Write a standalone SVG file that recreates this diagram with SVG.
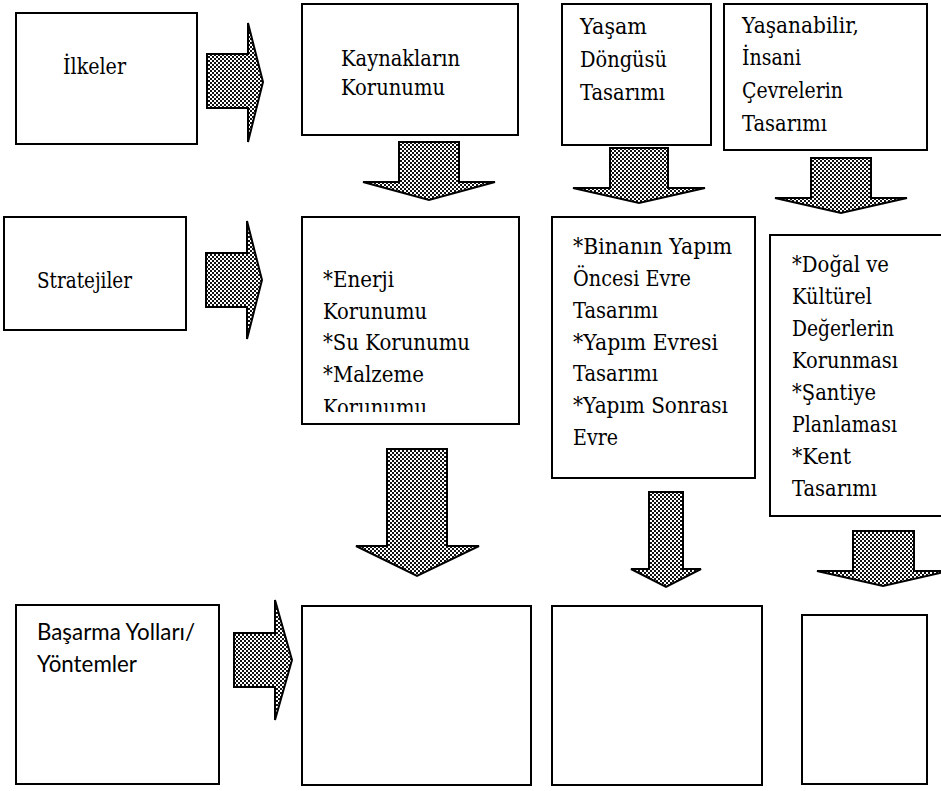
<svg xmlns="http://www.w3.org/2000/svg" width="941" height="791" viewBox="0 0 941 791">
  <defs>
    <!-- small checkerboard fill used by the block arrows -->
    <pattern id="checker" width="4" height="4" patternUnits="userSpaceOnUse">
      <rect width="4" height="4" fill="#ffffff"/>
      <rect width="2" height="2" fill="#111111"/>
      <rect x="2" y="2" width="2" height="2" fill="#111111"/>
    </pattern>
    <clipPath id="clip-enerji">
      <rect x="302" y="217" width="217" height="195"/>
    </clipPath>
  </defs>
  <style>
    .box { fill: #ffffff; stroke: #000000; stroke-width: 2; }
    .arrow { fill: url(#checker); stroke: #000000; stroke-width: 2; stroke-linejoin: miter; }
    .t { font-family: "DejaVu Serif", serif; font-size: 22px; fill: #000000; }
    .s { font-family: Lato, sans-serif; font-size: 23px; fill: #000000; }
  </style>

  <rect width="941" height="791" fill="#ffffff"/>

  <!-- row 1 -->
  <g id="ilkeler">
    <rect class="box" x="16" y="13" width="181" height="131"/>
    <text class="t" x="63" y="74" textLength="63" lengthAdjust="spacingAndGlyphs">İlkeler</text>
  </g>
  <g id="kaynaklarin-korunumu">
    <rect class="box" x="302" y="4" width="216" height="131"/>
    <text class="t" x="341" y="66" textLength="119" lengthAdjust="spacingAndGlyphs">Kaynakların</text>
    <text class="t" x="341" y="95" textLength="104" lengthAdjust="spacingAndGlyphs">Korunumu</text>
  </g>
  <g id="yasam-dongusu">
    <rect class="box" x="562" y="4" width="149" height="141"/>
    <text class="t" x="580" y="34" textLength="67" lengthAdjust="spacingAndGlyphs">Yaşam</text>
    <text class="t" x="580" y="67" textLength="87" lengthAdjust="spacingAndGlyphs">Döngüsü</text>
    <text class="t" x="580" y="100" textLength="85" lengthAdjust="spacingAndGlyphs">Tasarımı</text>
  </g>
  <g id="yasanabilir">
    <rect class="box" x="724" y="4" width="203" height="146"/>
    <text class="t" x="742" y="33" textLength="117" lengthAdjust="spacingAndGlyphs">Yaşanabilir,</text>
    <text class="t" x="742" y="65" textLength="59" lengthAdjust="spacingAndGlyphs">İnsani</text>
    <text class="t" x="742" y="98" textLength="101" lengthAdjust="spacingAndGlyphs">Çevrelerin</text>
    <text class="t" x="742" y="131" textLength="85" lengthAdjust="spacingAndGlyphs">Tasarımı</text>
  </g>

  <!-- row 2 -->
  <g id="stratejiler">
    <rect class="box" x="4" y="217" width="182" height="113"/>
    <text class="t" x="37" y="288" textLength="95" lengthAdjust="spacingAndGlyphs">Stratejiler</text>
  </g>
  <g id="enerji">
    <rect class="box" x="302" y="217" width="217" height="207"/>
    <g clip-path="url(#clip-enerji)">
      <text class="t" x="323" y="287" textLength="71" lengthAdjust="spacingAndGlyphs">*Enerji</text>
      <text class="t" x="323" y="319" textLength="104" lengthAdjust="spacingAndGlyphs">Korunumu</text>
      <text class="t" x="323" y="350" textLength="147" lengthAdjust="spacingAndGlyphs">*Su Korunumu</text>
      <text class="t" x="323" y="382" textLength="101" lengthAdjust="spacingAndGlyphs">*Malzeme</text>
      <text class="t" x="323" y="415" textLength="104" lengthAdjust="spacingAndGlyphs">Korunumu</text>
    </g>
  </g>
  <g id="binanin-yapim">
    <rect class="box" x="552" y="217" width="203" height="261"/>
    <text class="t" x="573" y="254" textLength="159" lengthAdjust="spacingAndGlyphs">*Binanın Yapım</text>
    <text class="t" x="573" y="286" textLength="118" lengthAdjust="spacingAndGlyphs">Öncesi Evre</text>
    <text class="t" x="573" y="318" textLength="85" lengthAdjust="spacingAndGlyphs">Tasarımı</text>
    <text class="t" x="573" y="350" textLength="145" lengthAdjust="spacingAndGlyphs">*Yapım Evresi</text>
    <text class="t" x="573" y="381" textLength="85" lengthAdjust="spacingAndGlyphs">Tasarımı</text>
    <text class="t" x="573" y="413" textLength="155" lengthAdjust="spacingAndGlyphs">*Yapım Sonrası</text>
    <text class="t" x="573" y="445" textLength="45" lengthAdjust="spacingAndGlyphs">Evre</text>
  </g>
  <g id="dogal-kulturel">
    <rect class="box" x="770" y="235" width="180" height="281"/>
    <text class="t" x="792" y="272" textLength="97" lengthAdjust="spacingAndGlyphs">*Doğal ve</text>
    <text class="t" x="792" y="304" textLength="80" lengthAdjust="spacingAndGlyphs">Kültürel</text>
    <text class="t" x="792" y="336" textLength="102" lengthAdjust="spacingAndGlyphs">Değerlerin</text>
    <text class="t" x="792" y="368" textLength="106" lengthAdjust="spacingAndGlyphs">Korunması</text>
    <text class="t" x="792" y="400" textLength="84" lengthAdjust="spacingAndGlyphs">*Şantiye</text>
    <text class="t" x="792" y="432" textLength="105" lengthAdjust="spacingAndGlyphs">Planlaması</text>
    <text class="t" x="792" y="464" textLength="59" lengthAdjust="spacingAndGlyphs">*Kent</text>
    <text class="t" x="792" y="496" textLength="85" lengthAdjust="spacingAndGlyphs">Tasarımı</text>
  </g>

  <!-- row 3 -->
  <g id="basarma-yollari">
    <rect class="box" x="16" y="605" width="203" height="179"/>
    <text class="s" x="37" y="640" textLength="158" lengthAdjust="spacingAndGlyphs">Başarma Yolları/</text>
    <text class="s" x="37" y="672" textLength="100" lengthAdjust="spacingAndGlyphs">Yöntemler</text>
  </g>
  <g id="yontem-1">
    <rect class="box" x="302" y="606" width="229" height="179"/>
  </g>
  <g id="yontem-2">
    <rect class="box" x="552" y="606" width="210" height="179"/>
  </g>
  <g id="yontem-3">
    <rect class="box" x="802" y="615" width="125" height="169"/>
  </g>

  <!-- block arrows -->
  <g id="connectors">
    <path class="arrow" d="M207,54 H248 V23 L263,82 L248,142 V108 H207 Z"/>
    <path class="arrow" d="M206,253 H247 V221 L262,280 L247,339 V307 H206 Z"/>
    <path class="arrow" d="M234,633 H275 V600 L292,660 L275,720 V687 H234 Z"/>

    <path class="arrow" d="M399,142 H459 V182 H495 L429,200 L363,182 H399 Z"/>
    <path class="arrow" d="M610,148 H668 V188 H705 L639,203 L573,188 H610 Z"/>
    <path class="arrow" d="M811,158 H871 V198 H907 L841,213 L775,198 H811 Z"/>

    <path class="arrow" d="M387,449 H447 V546 H479 L417,576 L356,546 H387 Z"/>
    <path class="arrow" d="M649,492 H683 V569 H701 L666,587 L631,569 H649 Z"/>
    <path class="arrow" d="M853,531 H914 V571 H949 L883,586 L817,571 H853 Z"/>
  </g>
</svg>
